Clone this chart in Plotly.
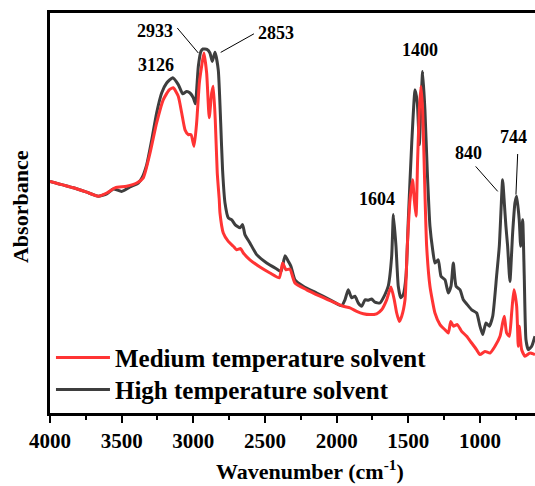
import plotly.graph_objects as go

# ---- data (absorbance in arbitrary units) ----
high_wn = [4000, 3837, 3744, 3663, 3604, 3558, 3500, 3442, 3384, 3358,
           3325, 3290, 3256, 3221, 3186, 3144, 3105, 3074, 3046, 3023,
           3000, 2986, 2965, 2947, 2933, 2905, 2884, 2868, 2849, 2826,
           2809, 2796, 2779, 2756, 2732, 2709, 2674, 2656, 2640, 2605,
           2558, 2488, 2418, 2388, 2360, 2337, 2319, 2291, 2233, 2139,
           2046, 1965, 1942, 1919, 1895, 1872, 1849, 1825, 1802, 1779,
           1756, 1732, 1698, 1663, 1640, 1616, 1604, 1586, 1570, 1553,
           1535, 1516, 1500, 1476, 1453, 1437, 1423, 1413, 1400, 1384,
           1368, 1349, 1330, 1314, 1291, 1272, 1244, 1221, 1202, 1186,
           1167, 1139, 1116, 1089, 1058, 1023, 1000, 981, 958, 935,
           911, 884, 865, 853, 842, 830, 819, 807, 791, 772,
           756, 744, 726, 716, 702, 691, 679, 663, 639, 616]
high_abs = [0.579, 0.563, 0.552, 0.542, 0.548, 0.560, 0.554, 0.565, 0.575, 0.588,
            0.621, 0.683, 0.750, 0.800, 0.825, 0.838, 0.821, 0.798, 0.804, 0.800,
            0.788, 0.773, 0.867, 0.904, 0.910, 0.909, 0.900, 0.879, 0.902, 0.858,
            0.725, 0.608, 0.525, 0.488, 0.483, 0.471, 0.463, 0.471, 0.446, 0.425,
            0.396, 0.375, 0.360, 0.354, 0.393, 0.379, 0.367, 0.333, 0.317, 0.300,
            0.283, 0.268, 0.283, 0.308, 0.288, 0.292, 0.275, 0.267, 0.283, 0.282,
            0.285, 0.277, 0.275, 0.296, 0.317, 0.392, 0.496, 0.417, 0.317, 0.288,
            0.296, 0.342, 0.483, 0.675, 0.808, 0.775, 0.671, 0.758, 0.854, 0.758,
            0.608, 0.467, 0.408, 0.375, 0.383, 0.342, 0.333, 0.300, 0.317, 0.375,
            0.317, 0.308, 0.283, 0.271, 0.258, 0.250, 0.217, 0.196, 0.225, 0.217,
            0.242, 0.342, 0.417, 0.508, 0.583, 0.525, 0.467, 0.417, 0.329, 0.450,
            0.525, 0.542, 0.483, 0.417, 0.483, 0.342, 0.183, 0.158, 0.167, 0.192]

med_wn = [4000, 3837, 3744, 3663, 3604, 3546, 3465, 3395, 3349, 3302,
          3256, 3210, 3168, 3140, 3105, 3081, 3058, 3035, 3016, 2995,
          2977, 2958, 2942, 2926, 2907, 2889, 2872, 2861, 2847, 2833,
          2819, 2814, 2791, 2756, 2721, 2698, 2670, 2651, 2605, 2535,
          2465, 2400, 2377, 2353, 2326, 2291, 2209, 2116, 2023, 1954,
          1907, 1860, 1814, 1767, 1721, 1686, 1651, 1621, 1598, 1581,
          1563, 1546, 1523, 1507, 1488, 1470, 1458, 1446, 1435, 1423,
          1412, 1400, 1384, 1372, 1349, 1314, 1279, 1244, 1221, 1204,
          1186, 1158, 1128, 1093, 1058, 1023, 1000, 965, 930, 895,
          860, 842, 830, 814, 795, 779, 763, 744, 733, 726,
          709, 686, 651, 616]
med_abs = [0.579, 0.563, 0.552, 0.542, 0.550, 0.563, 0.567, 0.575, 0.588, 0.650,
           0.725, 0.783, 0.808, 0.813, 0.792, 0.750, 0.708, 0.696, 0.696, 0.667,
           0.725, 0.825, 0.867, 0.900, 0.850, 0.738, 0.800, 0.817, 0.733, 0.600,
           0.533, 0.500, 0.450, 0.429, 0.417, 0.408, 0.411, 0.400, 0.383, 0.365,
           0.350, 0.338, 0.375, 0.358, 0.360, 0.325, 0.308, 0.292, 0.277, 0.267,
           0.263, 0.254, 0.248, 0.246, 0.248, 0.258, 0.283, 0.315, 0.283, 0.250,
           0.229, 0.242, 0.283, 0.417, 0.533, 0.583, 0.533, 0.492, 0.633, 0.758,
           0.817, 0.758, 0.550, 0.417, 0.317, 0.250, 0.221, 0.208, 0.200, 0.229,
           0.217, 0.221, 0.204, 0.192, 0.175, 0.158, 0.146, 0.154, 0.150, 0.167,
           0.192, 0.225, 0.242, 0.200, 0.192, 0.250, 0.308, 0.267, 0.167, 0.217,
           0.158, 0.142, 0.150, 0.146]

series_names = ["Medium temperature solvent", "High temperature solvent"]
tick_vals = [4000, 3500, 3000, 2500, 2000, 1500, 1000]

# peak labels: text, label position (wn, abs)
peak_labels = ["3126", "2933", "2853", "1400", "1604", "840", "744"]
peak_label_wn = [3260, 3270, 2421, 1419, 1715, 1078, 763]
peak_label_abs = [0.871, 0.954, 0.950, 0.908, 0.536, 0.649, 0.689]
# leader lines: (wn0, abs0, wn1, abs1)
leader_lines = [(3112, 0.9625, 2965, 0.900),
                (2577, 0.948, 2809, 0.9015),
                (1030, 0.6165, 876, 0.554),
                (737, 0.6475, 749, 0.546)]

FONT = "Liberation Serif, Times New Roman, serif"
RED = "#ff3434"
DARK = "#3e3e3e"

fig = go.Figure()
fig.add_trace(go.Scatter(x=high_wn, y=high_abs, mode="lines", name=series_names[1],
                         line=dict(color=DARK, width=3, shape="spline", smoothing=0.5),
                         legend="legend2"))
fig.add_trace(go.Scatter(x=med_wn, y=med_abs, mode="lines", name=series_names[0],
                         line=dict(color=RED, width=3, shape="spline", smoothing=0.5),
                         legend="legend"))

for t, xw, ya in zip(peak_labels, peak_label_wn, peak_label_abs):
    fig.add_annotation(x=xw, y=ya, xref="x", yref="y", text="<b>%s</b>" % t,
                       showarrow=False, font=dict(family=FONT, size=18, color="black"))
for (x0, y0, x1, y1) in leader_lines:
    fig.add_shape(type="line", xref="x", yref="y", x0=x0, y0=y0, x1=x1, y1=y1,
                  line=dict(color="black", width=1))

fig.add_annotation(x=0.536, y=-0.142, xref="paper", yref="paper",
                   xanchor="center", yanchor="middle",
                   text="<b>Wavenumber (cm<sup>-1</sup>)</b>", showarrow=False,
                   font=dict(family=FONT, size=22, color="black"))
fig.add_annotation(x=-0.061, y=0.516, xref="paper", yref="paper",
                   xanchor="center", yanchor="middle",
                   text="<b>Absorbance</b>", showarrow=False, textangle=-90,
                   font=dict(family=FONT, size=22, color="black"))

legend_style = dict(xanchor="left", yanchor="middle",
                    font=dict(family=FONT, size=25, color="black", weight="bold"),
                    bgcolor="rgba(0,0,0,0)", borderwidth=0, itemwidth=54)

fig.update_layout(
    width=535, height=486,
    margin=dict(l=50, r=0, t=13, b=73),
    paper_bgcolor="white", plot_bgcolor="white",
    showlegend=True,
    legend=dict(x=0.002, y=0.138, **legend_style),
    legend2=dict(x=0.002, y=0.058, **legend_style),
    xaxis=dict(range=[4000, 616], showgrid=False, zeroline=False,
               showline=True, linecolor="black", linewidth=3, mirror=True,
               tickvals=tick_vals, ticks="outside", ticklen=7, tickwidth=2,
               tickcolor="black",
               minor=dict(dtick=250, ticks="outside", ticklen=4, tickwidth=2,
                          tickcolor="black", tick0=4000),
               tickfont=dict(family=FONT, size=21, color="black", weight="bold")),
    yaxis=dict(range=[0, 1], showgrid=False, zeroline=False,
               showline=True, linecolor="black", linewidth=3, mirror=False,
               showticklabels=False, ticks=""),
)

fig.write_html("out.html")
